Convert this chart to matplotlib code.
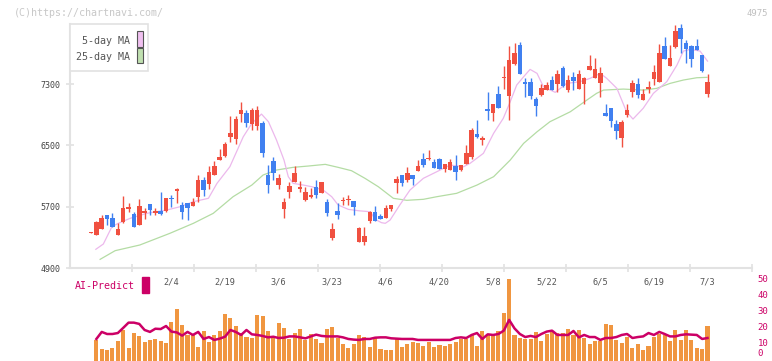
import matplotlib
matplotlib.use("Agg")
import matplotlib.pyplot as plt
from matplotlib.patches import Rectangle
import numpy as np

plt.rcParams['font.family'] = ['DejaVu Sans Mono']

# daily candles (index 0 .. 115)
opens = [
    5360, 5334, 5412, 5587, 5552, 5334, 5500, 5673, 5604, 5465,
    5621, 5734, 5621, 5639, 5647, 5813, 5900, 5717, 5751, 5712,
    5830, 6047, 5991, 6113, 6312, 6360, 6608, 6586, 6904, 6921,
    6778, 6755, 6791, 6113, 6295, 5982, 5669, 5887, 6021, 5934,
    5787, 5830, 5960, 5882, 5760, 5291, 5647, 5770, 5787, 5778,
    5243, 5243, 5517, 5630, 5578, 5552, 5673, 6008, 6113, 6051,
    6113, 6165, 6321, 6321, 6278, 6321, 6191, 6182, 6234, 6182,
    6260, 6347, 6651, 6573, 6973, 6921, 7165, 7374, 7147, 7556,
    7808, 7329, 7329, 7104, 7156, 7225, 7348, 7303, 7512, 7217,
    7391, 7234, 7303, 7486, 7381, 7316, 6917, 6986, 6778, 6595,
    6899, 7195, 7299, 7091, 7238, 7368, 7325, 7795, 7534, 7778,
    8030, 7830, 7795, 7795, 7677, 7169]
closes = [
    5370, 5500, 5552, 5543, 5431, 5404, 5682, 5699, 5439, 5708,
    5639, 5656, 5639, 5604, 5813, 5804, 5926, 5630, 5682, 5765,
    6047, 5917, 6148, 6234, 6347, 6521, 6660, 6843, 6956, 6791,
    6960, 6956, 6400, 5982, 6139, 6077, 5757, 5973, 6143, 5952,
    5891, 5852, 5856, 6021, 5613, 5412, 5587, 5787, 5804, 5691,
    5421, 5317, 5630, 5517, 5543, 5682, 5717, 6060, 6008, 6139,
    6060, 6234, 6243, 6334, 6208, 6191, 6260, 6278, 6148, 6243,
    6400, 6703, 6608, 6595, 6947, 7042, 6990, 7391, 7612, 7704,
    7434, 7295, 7147, 7016, 7243, 7286, 7225, 7434, 7269, 7348,
    7338, 7426, 7381, 7538, 7495, 7447, 6882, 6821, 6690, 6804,
    6960, 7316, 7160, 7169, 7264, 7456, 7708, 7629, 7638, 7994,
    7890, 7760, 7629, 7747, 7473, 7325]
highs = [
    5370, 5510, 5591, 5590, 5621, 5483, 5839, 5751, 5630, 5796,
    5682, 5734, 5682, 5891, 5813, 5856, 5943, 5760, 5751, 5809,
    6113, 6091, 6226, 6295, 6452, 6547, 6886, 6886, 7069, 6960,
    6986, 7012, 6817, 6243, 6347, 6122, 5817, 6025, 6230, 6030,
    5952, 5943, 6047, 6021, 5804, 5483, 5744, 5830, 5856, 5780,
    5439, 5439, 5639, 5708, 5604, 5717, 5720, 6104, 6113, 6217,
    6113, 6312, 6400, 6435, 6321, 6338, 6260, 6321, 6374, 6243,
    6504, 6729, 6834, 6617, 7191, 7042, 7269, 7530, 7791, 7834,
    7843, 7381, 7381, 7130, 7303, 7321, 7400, 7486, 7530, 7417,
    7452, 7486, 7391, 7677, 7634, 7525, 7039, 6986, 6830, 6830,
    7039, 7351, 7377, 7230, 7334, 7551, 7821, 7916, 7812, 8073,
    8082, 7873, 7804, 7886, 7677, 7430]
lows = [
    5360, 5330, 5410, 5465, 5430, 5330, 5483, 5630, 5439, 5465,
    5543, 5595, 5587, 5595, 5630, 5691, 5744, 5543, 5526, 5712,
    5765, 5843, 5930, 6110, 6310, 6350, 6539, 6513, 6808, 6739,
    6700, 6704, 6347, 5878, 6051, 5930, 5556, 5813, 6020, 5891,
    5780, 5813, 5813, 5880, 5578, 5265, 5543, 5725, 5725, 5587,
    5240, 5200, 5483, 5509, 5540, 5550, 5639, 5878, 5973, 6017,
    5982, 6160, 6217, 6304, 6200, 6190, 6148, 6180, 6051, 6165,
    6260, 6321, 6591, 6504, 6826, 6817, 6990, 7234, 6826, 7550,
    7430, 7130, 7104, 6878, 7147, 7220, 7220, 7191, 7265, 7199,
    7225, 7230, 7035, 7480, 7380, 7134, 6880, 6735, 6578, 6474,
    6865, 7134, 7117, 7090, 7178, 7282, 7320, 7625, 7530, 7775,
    7707, 7577, 7525, 7745, 7452, 7134]

# moving averages (x = candle index)
ma5_x = [0.9, 2.3, 3.9, 5.1, 7.3, 10.4, 14.1, 16.6, 19.1, 21.9,
         23.5, 25.9, 28.4, 30.0, 31.8, 33.1, 34.6, 36.0, 36.8, 37.7,
         39.6, 41.2, 43.3, 44.9, 46.1, 48.0, 49.9, 52.1, 53.0, 54.2,
         54.9, 55.8, 57.6, 59.5, 62.0, 64.5, 67.0, 69.5, 70.7, 73.2,
         75.1, 76.9, 78.2, 79.4, 80.7, 81.9, 83.2, 84.4, 86.6, 88.7,
         91.2, 93.1, 95.0, 96.2, 98.1, 99.9, 101.1, 103.0, 104.9, 107.4,
         109.3, 110.5, 111.8, 113.6, 115.0]
ma5 = [5144, 5213, 5439, 5483, 5548, 5613, 5656, 5699, 5765, 5809,
       6004, 6221, 6612, 6787, 6908, 6808, 6569, 6308, 6091, 6004,
       5982, 5960, 5917, 5830, 5722, 5665, 5647, 5634, 5535, 5491,
       5483, 5526, 5722, 5917, 6070, 6156, 6243, 6221, 6265, 6396,
       6657, 6852, 7069, 7286, 7395, 7491, 7439, 7264, 7191, 7308,
       7330, 7374, 7439, 7374, 7243, 6938, 6843, 6983, 7178, 7330,
       7547, 7730, 7752, 7730, 7599]
ma25_x = [1.7, 4.5, 9.1, 14.7, 19.1, 22.8, 26.5, 30.0, 32.1, 34.6,
          37.7, 40.5, 43.7, 46.1, 48.6, 51.1, 53.6, 56.4, 58.9, 62.0,
          64.5, 68.2, 72.0, 75.1, 78.2, 80.7, 83.2, 85.6, 89.4, 92.5,
          94.3, 95.6, 99.3, 103.0, 105.5, 108.0, 110.5, 113.0, 114.9]
ma25 = [5013, 5126, 5200, 5352, 5483, 5613, 5830, 5982, 6113, 6178,
        6213, 6230, 6252, 6213, 6169, 6070, 5960, 5809, 5783, 5796,
        5830, 5874, 5982, 6091, 6308, 6526, 6677, 6808, 6938, 7091,
        7178, 7221, 7234, 7221, 7243, 7308, 7352, 7382, 7387]

# lower panel (candles 1 .. 115)
volume = [11.5, 5.8, 5.0, 6.3, 10.8, 17.5, 6.3, 15.4, 13.8, 10.0,
          11.3, 11.9, 10.6, 9.4, 22.5, 30.6, 20.6, 14.4, 14.4, 6.9,
          16.9, 10.0, 14.4, 17.1, 27.5, 25.0, 19.8, 15.6, 13.1, 12.5,
          26.9, 26.3, 17.1, 12.5, 21.9, 18.8, 11.9, 15.6, 18.1, 11.3,
          15.0, 11.9, 9.4, 18.1, 19.4, 12.5, 8.8, 6.3, 8.8, 14.2,
          13.1, 6.9, 13.1, 5.6, 5.0, 5.0, 12.5, 6.9, 8.8, 10.0,
          9.4, 7.5, 10.0, 6.9, 8.1, 7.5, 8.8, 10.0, 11.9, 11.7,
          14.4, 7.5, 16.9, 14.4, 14.4, 16.9, 28.1, 49.4, 14.4, 12.5,
          11.9, 11.9, 16.3, 10.6, 15.0, 16.3, 15.6, 15.6, 18.1, 14.4,
          17.5, 12.5, 8.8, 10.6, 10.6, 21.3, 20.6, 11.3, 9.4, 13.1,
          6.3, 8.8, 5.0, 7.5, 13.1, 15.0, 14.4, 10.6, 17.5, 11.3,
          17.5, 11.3, 6.3, 5.6, 20.0]
ai_predict = [11.9, 16.3, 15.0, 15.0, 15.6, 18.8, 22.1, 22.1, 21.3, 17.5,
              16.3, 18.3, 18.1, 20.0, 16.5, 16.0, 14.0, 16.3, 14.4, 16.3,
              11.9, 13.1, 11.3, 12.1, 13.3, 17.5, 16.3, 14.4, 17.5, 14.8,
              14.4, 13.8, 12.9, 13.3, 12.5, 12.7, 13.5, 13.5, 12.9, 12.3,
              13.5, 14.6, 13.8, 13.5, 13.5, 13.5, 12.9, 11.9, 11.5, 11.3,
              11.9, 11.9, 12.7, 12.9, 12.9, 12.3, 12.1, 11.9, 11.9, 11.9,
              11.3, 11.3, 11.3, 11.3, 11.3, 11.3, 11.3, 12.5, 12.9, 12.5,
              14.4, 15.6, 11.9, 14.8, 14.4, 15.0, 17.1, 23.8, 18.5, 15.0,
              13.1, 13.8, 13.1, 15.0, 16.5, 17.1, 14.4, 14.4, 14.4, 16.9,
              12.9, 14.4, 13.1, 13.1, 11.3, 12.5, 12.5, 13.1, 14.4, 15.0,
              12.5, 13.1, 13.5, 15.6, 14.4, 16.3, 15.0, 13.5, 13.5, 14.4,
              14.8, 14.6, 14.4, 11.9, 12.5]

date_labels = ['2/4', '2/19', '3/6', '3/23', '4/6', '4/20', '5/8', '5/22', '6/5', '6/19', '7/3']
date_idx = [15, 25, 35, 45, 55, 65, 75, 85, 95, 105, 115]
price_ticks = [4900, 5700, 6500, 7300]
ai_ticks = [0, 10, 20, 30, 40, 50]

RED = '#f05040'
BLUE = '#4080f0'
ORANGE = '#f09640'
CRIMSON = '#cc0066'
GRID = '#e2e2e2'

W, H = 772, 361
fig = plt.figure(figsize=(W / 100, H / 100), dpi=100)


def fx(px):
    return px / W


def fy(py):
    return 1 - py / H


XLIM = (-3.92, 123.3)

# --- price panel ---
ax = fig.add_axes([fx(70), fy(268), fx(752) - fx(70), fy(24) - fy(268)])
ax.set_xlim(*XLIM)
ax.set_ylim(4900, 8083)

o = np.array(opens)
c = np.array(closes)
idx = np.arange(len(o))
cols = np.where(c >= o, RED, BLUE)
ax.plot(ma25_x, ma25, color='#b4dca4', lw=0.9, zorder=2)
ax.plot(ma5_x, ma5, color='#ecb8ec', lw=0.9, zorder=2)
ax.vlines(idx, lows, highs, colors=cols, lw=1.0, zorder=3)
ax.bar(idx, np.maximum(np.abs(c - o), 14), bottom=np.minimum(o, c),
       width=0.84, color=cols, linewidth=0, zorder=4)

for s in ['top', 'right']:
    ax.spines[s].set_visible(False)
for s in ['left', 'bottom']:
    ax.spines[s].set_color(GRID)
    ax.spines[s].set_linewidth(1.5)
ax.set_yticks(price_ticks)
ax.set_yticklabels([str(p) for p in price_ticks], fontsize=6, color='#444444')
ax.tick_params(axis='y', direction='inout', length=6, width=1.2, color=GRID, pad=4)
ax.set_xticks(np.linspace(XLIM[0], XLIM[1], 12)[1:])
ax.tick_params(axis='x', direction='inout', length=6, width=1.2, color=GRID,
               labelbottom=False)

# --- AI-Predict panel ---
ax2 = fig.add_axes([fx(70), 0, fx(752) - fx(70), fy(278)])
ax2.set_xlim(*XLIM)
ax2.set_ylim(-1.875, 50)
vx = np.arange(1, len(volume) + 1)
ax2.bar(vx, np.array(volume) + 1.875, bottom=-1.875, width=0.76,
        color=ORANGE, linewidth=0, zorder=2)
ax2.plot(vx, ai_predict, color=CRIMSON, lw=1.8, zorder=3)
for s in ax2.spines.values():
    s.set_visible(False)
ax2.set_xticks([])
ax2.yaxis.tick_right()
ax2.set_yticks(ai_ticks)
ax2.set_yticklabels([str(t) for t in ai_ticks], fontsize=6.5, color=CRIMSON)
ax2.tick_params(axis='y', length=0, pad=4)
ax2.get_yticklabels()[0].set_verticalalignment('bottom')

for i, lab in zip(date_idx, date_labels):
    ax2.text(i, 47.5, lab, ha='center', va='center', fontsize=6.2,
             color='#555555', clip_on=False)

fig.text(fx(75), fy(286), 'AI-Predict', ha='left', va='center',
         fontsize=7.2, color=CRIMSON)
fig.add_artist(Rectangle((fx(142), fy(293)), fx(149) - fx(142), fy(277) - fy(293),
                         transform=fig.transFigure, color=CRIMSON))

# --- legend box ---
fig.add_artist(Rectangle((fx(70), fy(71)), fx(148) - fx(70), fy(24) - fy(71),
                         transform=fig.transFigure, fc='white', ec=GRID, lw=1.2, zorder=5))
fig.text(fx(130), fy(40.7), '5-day MA', ha='right', va='center',
         fontsize=7.2, color='#555555', zorder=6)
fig.text(fx(130), fy(56.7), '25-day MA', ha='right', va='center',
         fontsize=7.2, color='#555555', zorder=6)
fig.add_artist(Rectangle((fx(136.5), fy(46.5)), fx(142.5) - fx(136.5), fy(31.5) - fy(46.5),
                         transform=fig.transFigure, fc='#f0c0f0', ec='#555555', lw=0.8, zorder=6))
fig.add_artist(Rectangle((fx(136.5), fy(63)), fx(142.5) - fx(136.5), fy(48.5) - fy(63),
                         transform=fig.transFigure, fc='#c0e0b0', ec='#555555', lw=0.8, zorder=6))

fig.text(fx(14), fy(13), '(C)https://chartnavi.com/', ha='left', va='center',
         fontsize=7.2, color='#c8c8c8')
fig.text(fx(768), fy(13), '4975', ha='right', va='center', fontsize=6.5, color='#c0c0c0')

fig.savefig('out.png', dpi=100)
